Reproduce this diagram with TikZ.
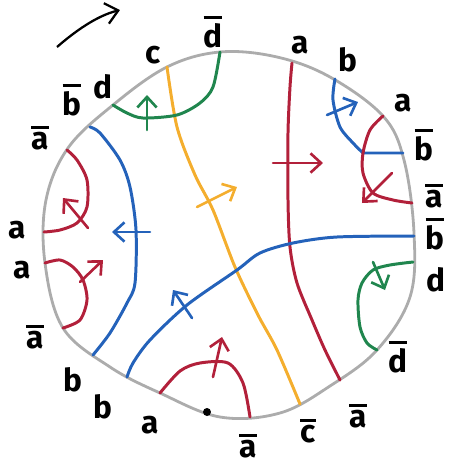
\documentclass[tikz,border=0pt]{standalone}
\usepackage{fontspec}
\setsansfont{Fira Sans}
\usepackage{xcolor}
\usetikzlibrary{arrows.meta}
\definecolor{hred}{RGB}{178,32,58}
\definecolor{hblue}{RGB}{36,98,186}
\definecolor{hgreen}{RGB}{32,134,78}
\definecolor{horange}{RGB}{244,174,46}
\definecolor{rimgray}{RGB}{172,172,172}
\newcommand{\nb}[1]{\vbox{\hrule height 1.6pt\kern 2.2pt\hbox{#1}}}

\begin{document}
\begin{tikzpicture}[x=0.02cm,y=-0.02cm,
  rim/.style={draw=rimgray,line width=1.6pt},
  strand/.style={line width=1.7pt,line cap=round},
  tick/.style={line width=1.5pt,line cap=round,-{Straight Barb[length=6pt,width=11pt]}},
  lab/.style={font=\sffamily\bfseries\fontsize{18}{18}\selectfont,inner sep=0pt}]
\useasboundingbox (0,0) rectangle (449,468);
\draw[rim] plot[smooth cycle,tension=0.6] coordinates {(220,52) (277,57) (330,77) (383,116) (404,160)
  (414,233) (410,297) (377,350) (330,386) (280,413) (220,417) (160,393) (110,367) (63,328) (45,263)
  (46,200) (68,148) (113,105) (167,67)};
\coordinate (o1) at (167,67);   \coordinate (o2) at (300,404);
\coordinate (r1) at (292,63);   \coordinate (r2) at (340,380);
\coordinate (bs1) at (335,79);  \coordinate (bs2) at (403,153);
\coordinate (rs1) at (383,116); \coordinate (rs2) at (412,203);
\coordinate (bl1) at (414,236); \coordinate (bl2) at (127,377);
\coordinate (bw1) at (90,127);  \coordinate (bw2) at (93,355);
\coordinate (ra1) at (67,150);  \coordinate (ra2) at (44,232);
\coordinate (rb1) at (45,263);  \coordinate (rb2) at (63,328);
\coordinate (rc1) at (160,393); \coordinate (rc2) at (250,417);
\coordinate (g1) at (113,105);  \coordinate (g2) at (220,52);
\coordinate (g3) at (413,262);  \coordinate (g4) at (377,350);
\draw[strand,horange] plot[smooth] coordinates {(o1) (177,127) (195,175) (213,210) (235,267) (258,315) (277,350) (o2)};
\draw[strand,hred] plot[smooth] coordinates {(r1) (290,87) (288,133) (288,200) (290,247) (297,283) (312,320) (325,350) (r2)};
\draw[strand,hblue] plot[smooth] coordinates {(bs1) (333,100) (340,127) (353,143) (363,153)} -- (bs2);
\draw[strand,hred] plot[smooth] coordinates {(rs1) (370,130) (363,153) (363,173) (373,193) (393,200) (rs2)};
\draw[strand,hblue] plot[smooth] coordinates {(bl1) (337,237) (293,243) (260,253) (237,270) (187,305) (150,340) (133,363) (bl2)};
\draw[strand,hblue] plot[smooth] coordinates {(bw1) (100,133) (120,160) (130,187) (136,230) (135,283) (127,303) (110,333) (bw2)};
\draw[strand,hred] plot[smooth] coordinates {(ra1) (77,160) (87,180) (87,207) (77,223) (60,230) (ra2)};
\draw[strand,hred] plot[smooth] coordinates {(rb1) (60,260) (73,267) (83,280) (87,300) (80,320) (rb2)};
\draw[strand,hred] plot[smooth] coordinates {(rc1) (180,371) (200,363) (228,363) (243,383) (rc2)};
\draw[strand,hgreen] plot[smooth] coordinates {(g1) (127,113) (143,118) (177,115) (200,103) (213,87) (g2)};
\draw[strand,hgreen] plot[smooth] coordinates {(g3) (390,265) (373,270) (362,283) (358,300) (360,327) (367,343) (g4)};
\draw[tick,hred] (273,163) -- (323,163);
\draw[tick,horange] (197,207) -- (237,187);
\draw[tick,hblue] (327,115) -- (358,102);
\draw[tick,hred] (392,173) -- (362,203);
\draw[tick,hblue] (192,318) -- (173,290);
\draw[tick,hblue] (150,232) -- (112,232);
\draw[tick,hred] (88,228) -- (63,198);
\draw[tick,hred] (80,282) -- (103,260);
\draw[tick,hred] (213,377) -- (222,337);
\draw[tick,hgreen] (147,130) -- (147,95);
\draw[tick,hgreen] (373,262) -- (385,290);
\fill (207,412) circle (4);
\draw[line width=1.3pt,-{Straight Barb[length=7pt,width=12pt]}] (57,47) .. controls (80,27) and (100,15) .. (120,10);
\node[lab] (c1) at (153,55) {c};
\node[lab] (dn1) at (213,32) {\nb{d}};
\node[lab] (a1) at (300,45) {a};
\node[lab] (b1) at (348,60) {b};
\node[lab] (a2) at (403,103) {a};
\node[lab] (bn1) at (424,145) {\nb{b}};
\node[lab] (an1) at (434,196) {\nb{a}};
\node[lab] (bn2) at (435,234) {\nb{b}};
\node[lab] (d1) at (436,280) {d};
\node[lab] (dn2) at (398,357) {\nb{d}};
\node[lab] (an2) at (358,416) {\nb{a}};
\node[lab] (cn1) at (308,431) {\nb{c}};
\node[lab] (an3) at (248,446) {\nb{a}};
\node[lab] (a3) at (150,425) {a};
\node[lab] (b2) at (103,407) {b};
\node[lab] (b3) at (73,380) {b};
\node[lab] (an4) at (35,337) {\nb{a}};
\node[lab] (a4) at (22,270) {a};
\node[lab] (a5) at (17,230) {a};
\node[lab] (an5) at (40,138) {\nb{a}};
\node[lab] (bn3) at (72,100) {\nb{b}};
\node[lab] (d2) at (103,87) {d};
\end{tikzpicture}
\end{document}
